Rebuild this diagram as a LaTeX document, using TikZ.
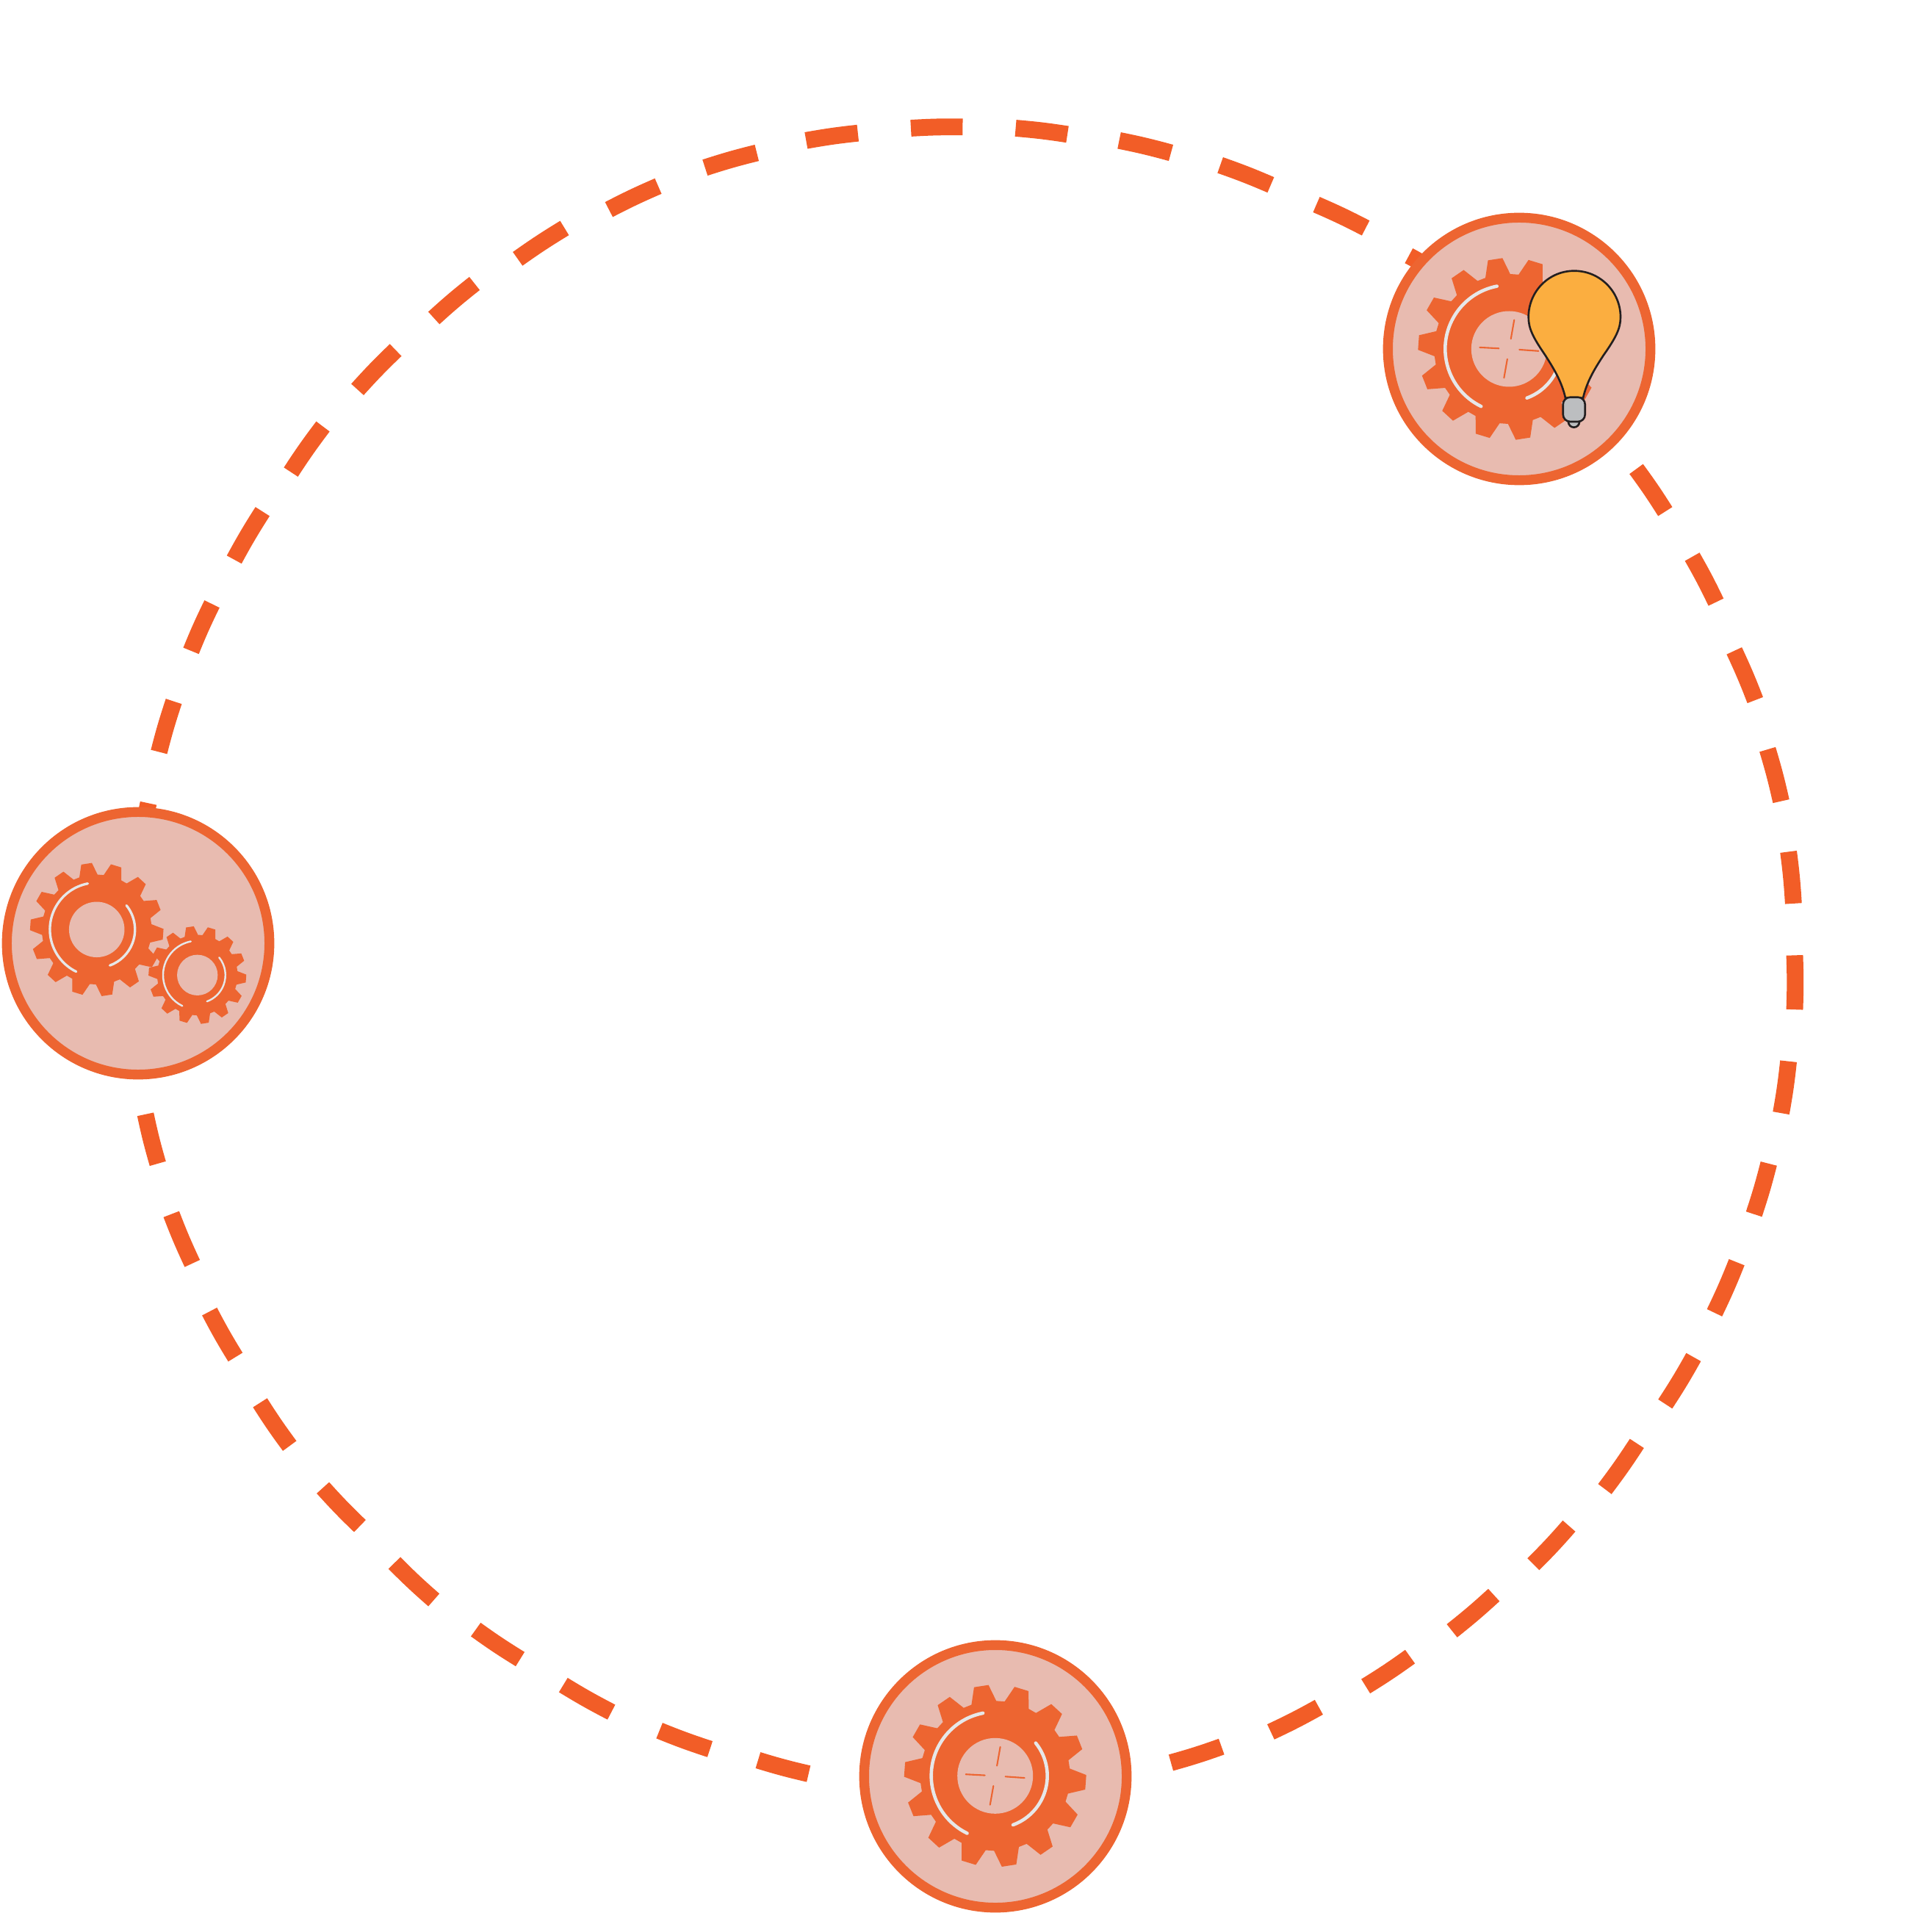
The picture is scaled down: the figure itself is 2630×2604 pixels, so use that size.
\documentclass[tikz,border=0pt]{standalone}
\usepackage{tikz}
\definecolor{dashorange}{HTML}{F25D27}
\definecolor{ringorange}{HTML}{ED6531}
\definecolor{ringpink}{HTML}{E8BBB0}
\definecolor{slitgrey}{HTML}{E6E7E8}
\definecolor{bulbyellow}{HTML}{FBAE40}
\definecolor{bulbline}{HTML}{231F20}
\definecolor{bulbgrey}{HTML}{BCBEC0}
\tikzset{
	dashpiece/.style={draw=dashorange, line width=6.5pt},
	ringdisc/.style={draw=ringorange, fill=ringpink, line width=3.8pt},
	gearbody/.style={fill=ringorange},
	gearhole/.style={fill=ringpink},
	gearshine/.style={draw=slitgrey, line cap=round},
	gearmark/.style={draw=ringorange, line cap=round, line width=.6pt},
	bulbglass/.style={draw=bulbline, fill=bulbyellow, line width=.75pt},
	bulbcap/.style={draw=bulbline, fill=bulbgrey, line width=.75pt},
}
% gear wheel, tooth tips at radius 124: centre x, centre y, size
\newcommand{\gearwheel}[3]{
	\begin{scope}[shift={(#1,#2)}, x=#3*0.01cm, y=#3*0.01cm]
		\fill[gearbody] (12.01:102) foreach \i in {0,...,13} {
			-- ({21.66+\i*360/14-9.65}:102) -- ({21.66+\i*360/14-4.6}:124)
			-- ({21.66+\i*360/14+4.6}:124) -- ({21.66+\i*360/14+9.65}:102)} -- cycle;
		\fill[gearhole] (0,0) circle (51.5);
		\draw[gearshine, line width=#3*1.3pt] (101:87) arc (101:244:87);
		\draw[gearshine, line width=#3*1.3pt] (39:71) arc (39:-70:71);
	\end{scope}
}
% the four short marks inside a hole
\newcommand{\gearmarks}[2]{
	\begin{scope}[shift={(#1,#2)}, x=0.01cm, y=0.01cm]
		\foreach \ang in {80,177,260,356} {
			\draw[gearmark] (\ang:14) -- (\ang:40);
		}
	\end{scope}
}
\begin{document}
\begin{tikzpicture}[x=0.01cm, y=-0.01cm]
		\useasboundingbox (0,0) rectangle (2630,2604);
		% dashes of the big circle, clockwise from the top
		\begin{scope}[x=0.016773cm, y=-0.016773cm]
		\foreach \xa/\ya/\xb/\yb in {
			739/104/781/103, 824/104/866/109, 908/114/950/124, 990/134/1031/150,
			1068/166/1108/185, 1143/207.5/1157/215.6, 1327.5/380.5/1351/415, 1372.9/451.7/1392.2/488.5,
			1407/528/1424/568, 1434/608/1445/650, 1451/691/1455/733, 1456/775/1456/819,
			1451/861/1445/903, 1435/944/1423/985, 1409/1024/1391/1065, 1374/1101/1351/1139,
			1328/1171/1302/1208, 1273/1238/1244/1269, 1212/1294/1178/1323, 1144/1344/1108/1368,
			1070/1385/1031/1405, 991/1417/950/1430, 656/1439/615/1428, 576/1419/535/1404,
			496/1389/457/1367, 422/1346/386/1322, 352/1298/320/1268, 292/1238/262/1207,
			235/1173/211/1138, 191/1101/170/1064, 156/1025/139/985, 128/944/118/904,
			118.5/662/120.4/651.6, 129/610/141/569, 155/528/172/490, 190/454/213/415,
			236/383/262/346, 290/316/321/284, 352/258/385/230, 420/210/458/185,
			494/170/534/151, 572/136/614/124, 654/114/696/108} {
			\draw[dashpiece] (\xa,\ya) to[bend left=2] (\xb,\yb);
		}
		\end{scope}
		% discs
		\filldraw[ringdisc] (2068,475) circle (178.7);
		\filldraw[ringdisc] (188,1284) circle (178.7);
		\filldraw[ringdisc] (1355,2418) circle (178.7);
		% gears
		\gearwheel{2054.3}{475}{1}
		\gearmarks{2054.3}{475}
		\gearwheel{131.7}{1265.3}{.733}
		\gearwheel{268.7}{1327.3}{.537}
		\gearwheel{1354.7}{2417.3}{1}
		\gearmarks{1354.7}{2417.3}
		% lamp
		\filldraw[bulbglass] (2143,368.7) .. controls (2178,368.7) and (2206,397) .. (2206,431.7)
			.. controls (2206,447) and (2200,459) .. (2183,483.3)
			.. controls (2170,503) and (2160,520) .. (2155,541.7) -- (2131,541.7)
			.. controls (2126,520) and (2116,503) .. (2103.3,483.3)
			.. controls (2086.7,459) and (2080.7,447) .. (2080.7,431.7)
			.. controls (2080.7,397) and (2108,368.7) .. (2143,368.7) -- cycle;
		\filldraw[bulbcap] (2135,570) -- (2135,574.2) arc[start angle=180, end angle=0, radius=7.5] -- (2150,570) -- cycle;
		\filldraw[bulbcap, rounded corners=2.8pt] (2127.7,540.7) rectangle (2157.7,574);
\end{tikzpicture}
\end{document}
